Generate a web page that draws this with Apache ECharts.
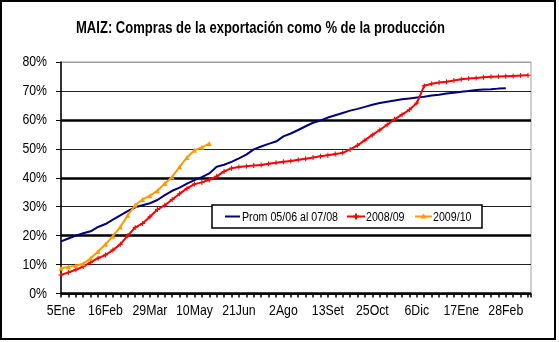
<!DOCTYPE html>
<html>
<head>
<meta charset="utf-8">
<script src="https://cdn.jsdelivr.net/npm/echarts@6/dist/echarts.min.js"></script>
<style>
html,body{margin:0;padding:0;background:#fff;}
#chart{width:559px;height:342px;}
</style>
</head>
<body>
<div id="chart"></div>
<script>
var TITLE = 'MAIZ: Compras de la exportación como % de la producción';
var categories = ['5Ene','12Ene','19Ene','26Ene','2Feb','9Feb','16Feb','23Feb','1Mar','8Mar','15Mar','22Mar','29Mar',
 '5Abr','12Abr','19Abr','26Abr','3May','10May','17May','24May','31May','7Jun','14Jun','21Jun','28Jun','5Jul','12Jul',
 '19Jul','26Jul','2Ago','9Ago','16Ago','23Ago','30Ago','6Set','13Set','20Set','27Set','4Oct','11Oct','18Oct','25Oct',
 '1Nov','8Nov','15Nov','22Nov','29Nov','6Dic','13Dic','20Dic','27Dic','3Ene','10Ene','17Ene','24Ene','31Ene','7Feb',
 '14Feb','21Feb','28Feb','7Mar','14Mar','21Mar'];
var labelEvery = 6;
var seriesNames = ['Prom 05/06 al 07/08', '2008/09', '2009/10'];
var seriesColors = ['#000080', '#ff0000', '#ff9900'];
var prom = [18,19,20,20.8,21.5,23,24,25.5,27,28.5,29.8,30.5,31.2,32.3,34,35.5,36.6,38,39.2,40.2,41.5,43.8,44.5,45.5,
 46.7,48,49.8,50.8,51.7,52.5,54.3,55.3,56.5,57.8,59,59.8,60.8,61.6,62.4,63.2,63.8,64.5,65.2,65.8,66.3,66.7,67.1,67.4,
 67.7,68,68.4,68.7,69.1,69.4,69.7,70,70.3,70.5,70.6,70.8,70.9];
var c0809 = [6.4,7.3,8.2,9.3,10.8,12.2,13.3,15,17,20,22.8,24.2,26.5,29,30.5,32.5,34.5,36.3,37.8,38.4,39.3,40.5,42.2,43.3,
 43.7,44,44.2,44.4,44.8,45.2,45.5,45.8,46.2,46.6,47,47.4,47.8,48.2,48.6,49.8,51.2,53,54.8,56.5,58.3,60.2,61.8,63.5,
 65.8,71.8,72.5,72.9,73.2,73.6,74,74.3,74.5,74.7,74.9,75,75.1,75.2,75.3,75.4];
var c0910 = [8.7,9.2,9.6,10.3,12.2,14.5,17,19.8,23,27,30.5,32.5,33.8,35.5,38,40.3,43.8,47,49.5,50.5,51.8];
var yTicks = [0,10,20,30,40,50,60,70,80];

function pairs(arr){ return arr.map(function(v, i){ return [i, v]; }); }

var FONT = "'Liberation Sans', Arial, sans-serif";
var NARROW = 0.82; // emulate a narrow face
var cv = document.createElement('canvas').getContext('2d');
function tw(font, s){ cv.font = font; return cv.measureText(s).width; }
var titleFont = 'bold 17px ' + FONT;
var titleScale = 369 / tw(titleFont, TITLE);

var chart = echarts.init(document.getElementById('chart'), null, {renderer:'canvas'});
var plus = 'path://M4,0H6V4H10V6H6V10H4V6H0V4H4Z';
chart.setOption({
  animation:false,
  grid:{left:61, right:28, top:62, bottom:48.5, show:true, borderColor:'#a0a0a0', borderWidth:1, backgroundColor:'#fff'},
  legend:{show:false, data:seriesNames},
  xAxis:{type:'value', min:0, max:categories.length - 0.6, interval:1,
    axisLine:{onZero:false, lineStyle:{color:'#000', width:1.5}},
    axisTick:{show:true, length:4, lineStyle:{color:'#000', width:1.5}},
    axisLabel:{show:false},
    splitLine:{show:false}},
  yAxis:[{type:'value', min:0, max:80, interval:10,
    axisLine:{show:true, onZero:false, lineStyle:{color:'#000', width:1.5}},
    axisTick:{show:true, length:5, lineStyle:{color:'#000'}},
    axisLabel:{show:false},
    splitLine:{show:true, lineStyle:{color:['#000','#222','#222','#222','#222','#222','#222','#222','#a0a0a0'], width:1}}},
   {type:'value', min:0, max:80, interval:20, position:'left',
    axisLine:{show:false}, axisTick:{show:false}, axisLabel:{show:false},
    splitLine:{show:true, lineStyle:{color:['#000','#000','#000','#000','rgba(0,0,0,0)'], width:2.5}}}],
  series:[
    {name:seriesNames[0], type:'line', data:pairs(prom), symbol:'none', lineStyle:{color:seriesColors[0], width:2}, itemStyle:{color:seriesColors[0]}, z:3},
    {name:seriesNames[1], type:'line', data:pairs(c0809), symbol:plus, symbolSize:5, showAllSymbol:true, lineStyle:{color:seriesColors[1], width:2}, itemStyle:{color:seriesColors[1]}, z:4},
    {name:seriesNames[2], type:'line', data:pairs(c0910), symbol:'triangle', symbolSize:5, showAllSymbol:true, lineStyle:{color:seriesColors[2], width:2}, itemStyle:{color:seriesColors[2]}, z:5}
  ]
});

// text drawn as real text with a narrow horizontal scale, positioned through the axes
var g = [];
g.push({type:'rect', shape:{x:1,y:1,width:554,height:338}, style:{fill:'none', stroke:'#000', lineWidth:2}, z:100});
g.push({type:'text', x:260.5, y:28, scaleX:titleScale, style:{text:TITLE, font:titleFont, fill:'#000', textAlign:'center', textVerticalAlign:'middle'}});
var axisX = chart.convertToPixel({xAxisIndex:0}, 0);
yTicks.forEach(function(v){
  var py = chart.convertToPixel({yAxisIndex:0}, v);
  g.push({type:'text', x:axisX - 14, y:py, scaleX:NARROW, style:{text:v + '%', font:'15px ' + FONT, fill:'#000', textAlign:'right', textVerticalAlign:'middle'}});
});
var axisY = chart.convertToPixel({yAxisIndex:0}, 0);
for (var i = 0; i < categories.length; i += labelEvery) {
  var px = chart.convertToPixel({xAxisIndex:0}, i);
  g.push({type:'text', x:px, y:axisY + 17, scaleX:NARROW, style:{text:categories[i], font:'15px ' + FONT, fill:'#000', textAlign:'center', textVerticalAlign:'middle'}});
}
// legend box
var L = {x:212, y:205, w:270, h:23};
g.push({type:'rect', shape:{x:L.x, y:L.y, width:L.w, height:L.h}, style:{fill:'#fff', stroke:'#000', lineWidth:1.5}, z:50});
var ly = L.y + L.h / 2;
var items = [{x0:225, x1:240, tx:242, sym:null}, {x0:347, x1:365, tx:366, sym:'plus'}, {x0:415, x1:432, tx:433, sym:'tri'}];
items.forEach(function(it, k){
  g.push({type:'line', shape:{x1:it.x0, y1:ly, x2:it.x1, y2:ly}, style:{stroke:seriesColors[k], lineWidth:2}, z:51});
  var cx = (it.x0 + it.x1) / 2;
  if (it.sym === 'plus') {
    g.push({type:'polygon', shape:{points:[[cx-1,ly-3],[cx+1,ly-3],[cx+1,ly-1],[cx+3,ly-1],[cx+3,ly+1],[cx+1,ly+1],[cx+1,ly+3],[cx-1,ly+3],[cx-1,ly+1],[cx-3,ly+1],[cx-3,ly-1],[cx-1,ly-1]]}, style:{fill:seriesColors[k]}, z:52});
  } else if (it.sym === 'tri') {
    g.push({type:'polygon', shape:{points:[[cx,ly-3],[cx+3,ly+2],[cx-3,ly+2]]}, style:{fill:seriesColors[k]}, z:52});
  }
  g.push({type:'text', x:it.tx, y:ly + 0.5, scaleX:NARROW, style:{text:seriesNames[k], font:'13px ' + FONT, fill:'#000', textAlign:'left', textVerticalAlign:'middle'}, z:52});
});
chart.setOption({graphic:g});
</script>
</body>
</html>
